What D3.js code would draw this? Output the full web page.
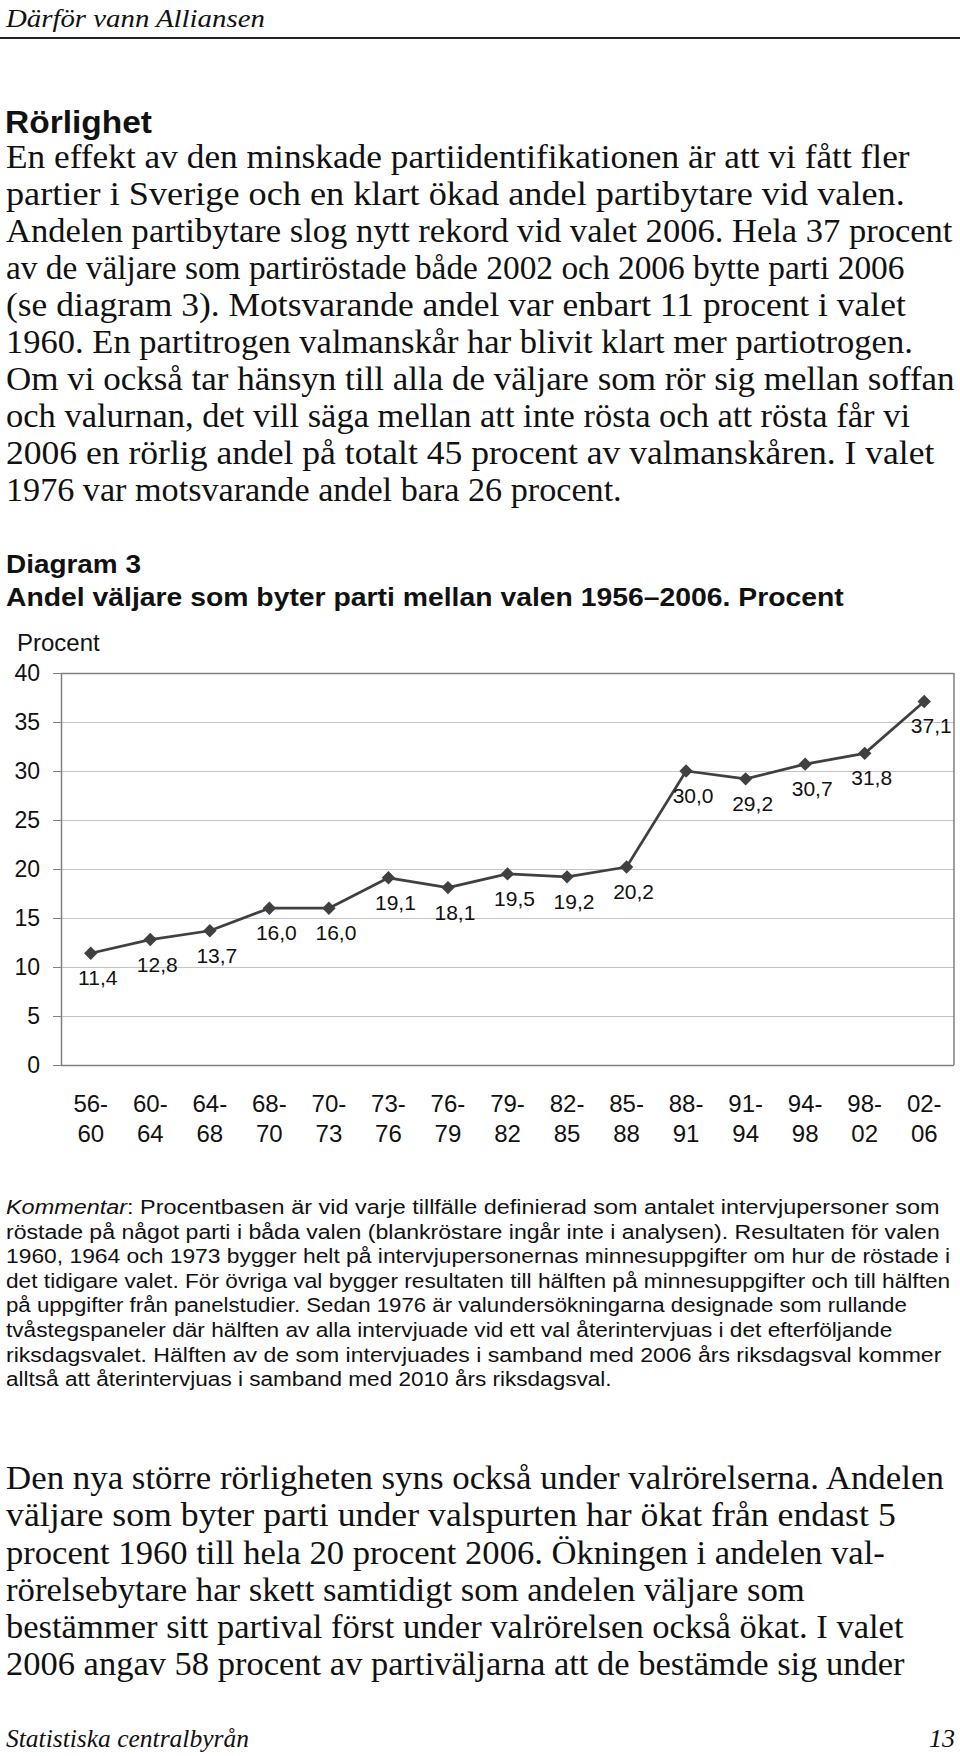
<!DOCTYPE html>
<html><head><meta charset="utf-8">
<script src="https://cdn.jsdelivr.net/npm/d3@7"></script>
<style>html,body{margin:0;padding:0;background:#fff;} svg{display:block;}</style>
</head><body>
<svg id="page" width="960" height="1756"></svg>
<script>
// ---------- data ----------
const categories = ["56-60","60-64","64-68","68-70","70-73","73-76","76-79","79-82","82-85","85-88","88-91","91-94","94-98","98-02","02-06"];
const values = [11.4,12.8,13.7,16.0,16.0,19.1,18.1,19.5,19.2,20.2,30.0,29.2,30.7,31.8,37.1];
const yTicks = [0,5,10,15,20,25,30,35,40];

const headerText = "Därför vann Alliansen";
const sectionTitle = "Rörlighet";
const introLines = [
  "En effekt av den minskade partiidentifikationen är att vi fått fler",
  "partier i Sverige och en klart ökad andel partibytare vid valen.",
  "Andelen partibytare slog nytt rekord vid valet 2006. Hela 37 procent",
  "av de väljare som partiröstade både 2002 och 2006 bytte parti 2006",
  "(se diagram 3). Motsvarande andel var enbart 11 procent i valet",
  "1960. En partitrogen valmanskår har blivit klart mer partiotrogen.",
  "Om vi också tar hänsyn till alla de väljare som rör sig mellan soffan",
  "och valurnan, det vill säga mellan att inte rösta och att rösta får vi",
  "2006 en rörlig andel på totalt 45 procent av valmanskåren. I valet",
  "1976 var motsvarande andel bara 26 procent."
];
const chartLabel = "Diagram 3";
const chartTitle = "Andel väljare som byter parti mellan valen 1956–2006. Procent";
const yAxisTitle = "Procent";
const commentLead = "Kommentar";
const commentLines = [
  ": Procentbasen är vid varje tillfälle definierad som antalet intervjupersoner som",
  "röstade på något parti i båda valen (blankröstare ingår inte i analysen). Resultaten för valen",
  "1960, 1964 och 1973 bygger helt på intervjupersonernas minnesuppgifter om hur de röstade i",
  "det tidigare valet. För övriga val bygger resultaten till hälften på minnesuppgifter och till hälften",
  "på uppgifter från panelstudier. Sedan 1976 är valundersökningarna designade som rullande",
  "tvåstegspaneler där hälften av alla intervjuade vid ett val återintervjuas i det efterföljande",
  "riksdagsvalet. Hälften av de som intervjuades i samband med 2006 års riksdagsval kommer",
  "alltså att återintervjuas i samband med 2010 års riksdagsval."
];
const outroLines = [
  "Den nya större rörligheten syns också under valrörelserna. Andelen",
  "väljare som byter parti under valspurten har ökat från endast 5",
  "procent 1960 till hela 20 procent 2006. Ökningen i andelen val-",
  "rörelsebytare har skett samtidigt som andelen väljare som",
  "bestämmer sitt partival först under valrörelsen också ökat. I valet",
  "2006 angav 58 procent av partiväljarna att de bestämde sig under"
];
const footerLeft = "Statistiska centralbyrån";
const footerRight = "13";

// ---------- layout (line right edges in px, typeset widths of the original) ----------
const introEnds = [910, 905, 953, 905, 906, 913, 955, 910, 935, 622];
const commentEnds = [940, 940, 951, 951, 907, 893, 942, 612];
const outroEnds = [944, 896, 885, 805, 904, 905];

// ---------- page ----------
const svg = d3.select("#page");
const SERIF = "'Liberation Serif', 'Times New Roman', serif";
const SANS = "'Liberation Sans', Arial, Helvetica, sans-serif";

// horizontally fit one text element between x0 and xEnd
function fit(node, x0, xEnd) {
  const w = node.getComputedTextLength();
  const k = (xEnd - x0) / w;
  d3.select(node).attr("x", 0).attr("transform", `translate(${x0},0) scale(${k},1)`);
}

function textBlock(lines, opts) {
  const t = svg.append("g").selectAll("text").data(lines).join("text")
    .attr("y", (d, i) => opts.y0 + i * opts.dy)
    .attr("font-family", opts.family)
    .attr("font-size", opts.size)
    .attr("font-weight", opts.weight || "normal")
    .attr("font-style", opts.style || "normal")
    .attr("fill", "#111")
    .text(d => d);
  t.each(function(d, i) { fit(this, opts.x, opts.ends[i]); });
}

// header
textBlock([headerText], {x: 6, y0: 27, dy: 0, family: SERIF, size: 26, style: "italic", ends: [265]});
svg.append("line").attr("x1", 0).attr("x2", 960).attr("y1", 38).attr("y2", 38)
  .attr("stroke", "#222").attr("stroke-width", 2);

// section title
textBlock([sectionTitle], {x: 5, y0: 133, dy: 0, family: SANS, size: 31, weight: "bold", ends: [152]});

// intro paragraph
textBlock(introLines, {x: 6, y0: 168, dy: 37, family: SERIF, size: 33, ends: introEnds});

// chart heading
textBlock([chartLabel], {x: 6, y0: 573, dy: 0, family: SANS, size: 26, weight: "bold", ends: [141]});
textBlock([chartTitle], {x: 6, y0: 606, dy: 0, family: SANS, size: 26, weight: "bold", ends: [844]});

// ---------- chart ----------
const pLeft = 61, pRight = 954, pTop = 673, pBottom = 1065;
const x = d3.scalePoint().domain(categories).range([pLeft, pRight]).padding(0.5);
const y = d3.scaleLinear().domain([0, 40]).range([pBottom, pTop]);

svg.append("text").attr("x", 17).attr("y", 651)
  .attr("font-family", SANS).attr("font-size", 24).attr("fill", "#111").text(yAxisTitle);

// gridlines
const grid = svg.append("g").attr("transform", `translate(${pLeft},0)`)
  .call(d3.axisLeft(y).tickValues(yTicks).tickSize(-(pRight - pLeft)).tickFormat(""));
grid.select(".domain").remove();
grid.selectAll(".tick line").attr("stroke", d => (d === 0 || d === 40) ? "#808080" : "#c4c4c4")
  .attr("stroke-width", d => (d === 0 || d === 40) ? 1.5 : 1);

// right border
svg.append("line").attr("x1", pRight).attr("x2", pRight).attr("y1", pTop).attr("y2", pBottom)
  .attr("stroke", "#808080").attr("stroke-width", 1.5);

// left axis with ticks and labels
const yAxis = svg.append("g").attr("transform", `translate(${pLeft},0)`)
  .call(d3.axisLeft(y).tickValues(yTicks).tickSize(8).tickPadding(13).tickSizeOuter(0));
yAxis.select(".domain").attr("stroke", "#808080").attr("stroke-width", 1.5);
yAxis.selectAll(".tick line").attr("stroke", "#808080");
yAxis.selectAll(".tick text").attr("font-family", SANS).attr("font-size", 23).attr("fill", "#111");

// x labels (two lines)
const xl = svg.append("g").selectAll("text").data(categories).join("text")
  .attr("text-anchor", "middle")
  .attr("font-family", SANS).attr("font-size", 24).attr("fill", "#111");
xl.append("tspan").attr("x", d => x(d)).attr("y", 1112).text(d => d.split("-")[0] + "-");
xl.append("tspan").attr("x", d => x(d)).attr("y", 1142).text(d => d.split("-")[1]);

// line
const pts = categories.map((c, i) => ({c, v: values[i]}));
svg.append("path").datum(pts)
  .attr("fill", "none").attr("stroke", "#404040").attr("stroke-width", 2.7)
  .attr("stroke-linejoin", "round")
  .attr("d", d3.line().x(d => x(d.c)).y(d => y(d.v)));

// markers
svg.append("g").selectAll("path").data(pts).join("path")
  .attr("d", d3.symbol(d3.symbolSquare, 90))
  .attr("transform", d => `translate(${x(d.c)},${y(d.v)}) rotate(45)`)
  .attr("fill", "#404040");

// data labels
const fmt = d3.format(".1f");
svg.append("g").selectAll("text").data(pts).join("text")
  .attr("x", d => x(d.c) + 7).attr("y", d => y(d.v) + 32)
  .attr("text-anchor", "middle")
  .attr("font-family", SANS).attr("font-size", 21).attr("fill", "#111")
  .text(d => fmt(d.v).replace(".", ","));

// ---------- comment ----------
{
  const t = svg.append("g").selectAll("text").data(commentLines).join("text")
    .attr("y", (d, i) => 1214 + i * 24.6)
    .attr("font-family", SANS).attr("font-size", 19.5).attr("fill", "#111");
  t.filter((d, i) => i === 0).append("tspan").attr("font-style", "italic").text(commentLead);
  t.append("tspan").text(d => d);
  t.each(function(d, i) { fit(this, 6, commentEnds[i]); });
}

// ---------- outro ----------
textBlock(outroLines, {x: 6, y0: 1489, dy: 37.3, family: SERIF, size: 33, ends: outroEnds});

// footer
textBlock([footerLeft], {x: 6, y0: 1747, dy: 0, family: SERIF, size: 26, style: "italic", ends: [249]});
svg.append("text").attr("x", 955).attr("y", 1747).attr("text-anchor", "end")
  .attr("font-family", SERIF).attr("font-size", 26).attr("font-style", "italic")
  .attr("fill", "#111").text(footerRight);
</script>
</body></html>
